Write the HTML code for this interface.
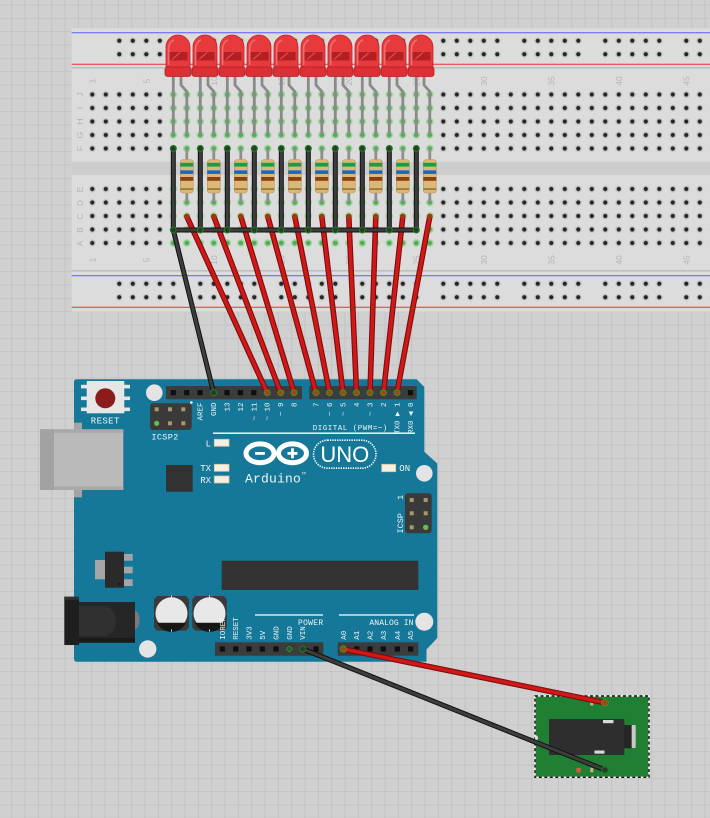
<!DOCTYPE html>
<html><head><meta charset="utf-8">
<style>
html,body{margin:0;padding:0;background:#d0d0d0;}
svg{display:block;}
.m{font-family:"Liberation Mono","DejaVu Sans Mono",monospace;fill:#eef4f6;}
.bb{font-family:"Liberation Sans","DejaVu Sans",sans-serif;fill:#b4b4b4;font-size:8.5px;}
</style></head>
<body>
<svg width="710" height="818" viewBox="0 0 710 818" xmlns="http://www.w3.org/2000/svg">
<defs>
 <pattern id="grid" patternUnits="userSpaceOnUse" x="-2.17" y="4.5" width="13.333" height="13.333">
  <rect width="13.333" height="13.333" fill="#d0d0d0"/>
  <path d="M0.5,0V13.333M0,0.5H13.333" stroke="#c3c3c3" stroke-width="1"/>
 </pattern>
 <pattern id="hole" patternUnits="userSpaceOnUse" x="85.55" y="87.75" width="13.5" height="13.5">
  <circle cx="6.75" cy="6.75" r="3.5" fill="#c6c6c6"/>
  <circle cx="6.75" cy="6.75" r="2.1" fill="#252525"/>
 </pattern>
 <pattern id="ghole" patternUnits="userSpaceOnUse" x="85.55" y="87.75" width="13.5" height="13.5">
  <circle cx="6.75" cy="6.75" r="3.8" fill="#9fd59f"/>
  <circle cx="6.75" cy="6.75" r="2.3" fill="#4fae55"/>
 </pattern>
 <pattern id="rail" patternUnits="userSpaceOnUse" x="112.55" y="34" width="81" height="13.5">
  <circle cx="6.75" cy="6.75" r="3.5" fill="#c6c6c6"/><circle cx="6.75" cy="6.75" r="2.1" fill="#252525"/>
  <circle cx="20.25" cy="6.75" r="3.5" fill="#c6c6c6"/><circle cx="20.25" cy="6.75" r="2.1" fill="#252525"/>
  <circle cx="33.75" cy="6.75" r="3.5" fill="#c6c6c6"/><circle cx="33.75" cy="6.75" r="2.1" fill="#252525"/>
  <circle cx="47.25" cy="6.75" r="3.5" fill="#c6c6c6"/><circle cx="47.25" cy="6.75" r="2.1" fill="#252525"/>
  <circle cx="60.75" cy="6.75" r="3.5" fill="#c6c6c6"/><circle cx="60.75" cy="6.75" r="2.1" fill="#252525"/>
 </pattern>
 <g id="led">
  <path d="M173.3,75V135" stroke="#8a8a8a" stroke-width="2.8" fill="none"/>
  <path d="M181,75V85L186.8,91.5V135" stroke="#8a8a8a" stroke-width="2.8" fill="none" stroke-linejoin="round"/>
  <path d="M166,68V47A12,12 0 0 1 190,47V68Z" fill="#e63a3c" stroke="#c22428" stroke-width="0.8"/>
  <rect x="165" y="67" width="26" height="9.5" rx="2.5" fill="#dc3034" stroke="#b51f22" stroke-width="0.8"/>
  <rect x="169.5" y="52" width="18" height="8.5" fill="#b41f24"/>
  <path d="M171,59.5L179,52.5H181L173,59.5Z" fill="#dd4a4a"/>
  <path d="M168.6,65V48A9.5,9.5 0 0 1 174,39.8" stroke="#f08080" stroke-width="1.8" fill="none" opacity="0.7"/>
 </g>
 <g id="res">
  <path d="M186.8,148.5V203" stroke="#8e8e8e" stroke-width="2.8"/>
  <rect x="180.3" y="159.5" width="13" height="33.5" rx="3" fill="#dbb878" stroke="#b8955a" stroke-width="0.6"/>
  <rect x="180.3" y="162.8" width="13" height="3.8" fill="#14a044"/>
  <rect x="180.3" y="170.4" width="13" height="3.5" fill="#1a66bf"/>
  <rect x="180.3" y="177" width="13" height="3.8" fill="#8b3f10"/>
  <rect x="180.3" y="188.2" width="13" height="1.8" fill="#9a7a3a"/>
 </g>
 <g id="pinh"><rect x="-2.6" y="-2.6" width="5.2" height="5.2" fill="#0e0e0e"/></g>
</defs>

<!-- background -->
<rect x="0" y="0" width="710" height="818" fill="url(#grid)"/>

<!-- breadboard -->
<rect x="71.7" y="28.3" width="660" height="283.4" fill="#dcdcdc"/>
<line x1="71.7" y1="32.7" x2="710" y2="32.7" stroke="#5b5bff" stroke-width="1"/>
<line x1="71.7" y1="64.3" x2="710" y2="64.3" stroke="#ee3030" stroke-width="1"/>
<line x1="71.7" y1="67.7" x2="710" y2="67.7" stroke="#bdbdbd" stroke-width="1.5"/>
<line x1="71.7" y1="270.7" x2="710" y2="270.7" stroke="#bdbdbd" stroke-width="1.5"/>
<line x1="71.7" y1="275.7" x2="710" y2="275.7" stroke="#5b5bff" stroke-width="1"/>
<line x1="71.7" y1="307.3" x2="710" y2="307.3" stroke="#ee3030" stroke-width="1"/>
<rect x="71.7" y="161.7" width="660" height="13.3" fill="#cdcdcd"/>
<rect x="112.55" y="34" width="600" height="27" fill="url(#rail)"/>
<rect x="112.55" y="277" width="600" height="27" fill="url(#rail)"/>
<rect x="85.55" y="87.75" width="630" height="67.5" fill="url(#hole)"/>
<rect x="85.55" y="182.75" width="630" height="67.5" fill="url(#hole)"/>
<rect x="166.55" y="87.75" width="270" height="67.5" fill="url(#ghole)"/>
<rect x="166.55" y="182.75" width="270" height="67.5" fill="url(#ghole)"/>

<!-- row letters -->
<g class="bb">
 <text transform="translate(83,94.5) rotate(-90)" text-anchor="middle">J</text>
 <text transform="translate(83,108) rotate(-90)" text-anchor="middle">I</text>
 <text transform="translate(83,121.5) rotate(-90)" text-anchor="middle">H</text>
 <text transform="translate(83,135) rotate(-90)" text-anchor="middle">G</text>
 <text transform="translate(83,148.5) rotate(-90)" text-anchor="middle">F</text>
 <text transform="translate(83,189.5) rotate(-90)" text-anchor="middle">E</text>
 <text transform="translate(83,203) rotate(-90)" text-anchor="middle">D</text>
 <text transform="translate(83,216.5) rotate(-90)" text-anchor="middle">C</text>
 <text transform="translate(83,230) rotate(-90)" text-anchor="middle">B</text>
 <text transform="translate(83,243.5) rotate(-90)" text-anchor="middle">A</text>
 <text transform="translate(95.3,81) rotate(-90)" text-anchor="middle">1</text>
 <text transform="translate(149.3,81) rotate(-90)" text-anchor="middle">5</text>
 <text transform="translate(216.8,81) rotate(-90)" text-anchor="middle">10</text>
 <text transform="translate(284.3,81) rotate(-90)" text-anchor="middle">15</text>
 <text transform="translate(351.8,81) rotate(-90)" text-anchor="middle">20</text>
 <text transform="translate(419.3,81) rotate(-90)" text-anchor="middle">25</text>
 <text transform="translate(486.8,81) rotate(-90)" text-anchor="middle">30</text>
 <text transform="translate(554.3,81) rotate(-90)" text-anchor="middle">35</text>
 <text transform="translate(621.8,81) rotate(-90)" text-anchor="middle">40</text>
 <text transform="translate(689.3,81) rotate(-90)" text-anchor="middle">45</text>
 <text transform="translate(95.3,260) rotate(-90)" text-anchor="middle">1</text>
 <text transform="translate(149.3,260) rotate(-90)" text-anchor="middle">5</text>
 <text transform="translate(216.8,260) rotate(-90)" text-anchor="middle">10</text>
 <text transform="translate(284.3,260) rotate(-90)" text-anchor="middle">15</text>
 <text transform="translate(351.8,260) rotate(-90)" text-anchor="middle">20</text>
 <text transform="translate(419.3,260) rotate(-90)" text-anchor="middle">25</text>
 <text transform="translate(486.8,260) rotate(-90)" text-anchor="middle">30</text>
 <text transform="translate(554.3,260) rotate(-90)" text-anchor="middle">35</text>
 <text transform="translate(621.8,260) rotate(-90)" text-anchor="middle">40</text>
 <text transform="translate(689.3,260) rotate(-90)" text-anchor="middle">45</text>
</g>

<!-- LEDs -->
<use href="#led"/>
<use href="#led" transform="translate(27,0)"/>
<use href="#led" transform="translate(54,0)"/>
<use href="#led" transform="translate(81,0)"/>
<use href="#led" transform="translate(108,0)"/>
<use href="#led" transform="translate(135,0)"/>
<use href="#led" transform="translate(162,0)"/>
<use href="#led" transform="translate(189,0)"/>
<use href="#led" transform="translate(216,0)"/>
<use href="#led" transform="translate(243,0)"/>

<!-- resistors -->
<use href="#res"/>
<use href="#res" transform="translate(27,0)"/>
<use href="#res" transform="translate(54,0)"/>
<use href="#res" transform="translate(81,0)"/>
<use href="#res" transform="translate(108,0)"/>
<use href="#res" transform="translate(135,0)"/>
<use href="#res" transform="translate(162,0)"/>
<use href="#res" transform="translate(189,0)"/>
<use href="#res" transform="translate(216,0)"/>
<use href="#res" transform="translate(243,0)"/>

<!-- ARDUINO -->
<path d="M77,379.3L416.7,379.3L424.3,387L424.3,451.7L437.3,463.5L437.3,638L426.5,649.5L426.5,661.7L77,661.7Q74,661.7 74,658.7L74,382.3Q74,379.3 77,379.3Z" fill="#167898"/>
<!-- mounting holes -->
<circle cx="154.3" cy="392.7" r="8.3" fill="#e4e4e4"/>
<circle cx="424.3" cy="473.3" r="8.3" fill="#e4e4e4"/>
<circle cx="147.7" cy="649" r="8.7" fill="#e4e4e4"/>
<circle cx="424.3" cy="621.7" r="9" fill="#e4e4e4"/>

<!-- USB -->
<rect x="74" y="422.7" width="8" height="7" fill="#a4a4a4"/>
<rect x="74" y="490" width="8" height="7.3" fill="#a4a4a4"/>
<rect x="40" y="429.3" width="83.3" height="60.7" fill="#bababa"/>
<rect x="40" y="429.3" width="83.3" height="3.5" fill="#a9a9a9"/>
<rect x="40" y="486.5" width="83.3" height="3.5" fill="#a9a9a9"/>
<rect x="40" y="429.3" width="14" height="60.7" fill="#a2a2a2"/>

<!-- reset -->
<rect x="81" y="384.8" width="6" height="3.6" fill="#e6e6e6"/>
<rect x="81" y="396.5" width="6" height="3.6" fill="#e6e6e6"/>
<rect x="81" y="407.5" width="6" height="3.6" fill="#e6e6e6"/>
<rect x="124" y="384.8" width="6" height="3.6" fill="#e6e6e6"/>
<rect x="124" y="396.5" width="6" height="3.6" fill="#e6e6e6"/>
<rect x="124" y="407.5" width="6" height="3.6" fill="#e6e6e6"/>
<rect x="86.7" y="381" width="37.6" height="32.3" fill="#e6e6e6"/>
<circle cx="105.3" cy="398.3" r="10" fill="#8c1c1c"/>
<text class="m" x="105.3" y="423.3" font-size="9" text-anchor="middle" letter-spacing="0.4">RESET</text>

<!-- ICSP2 -->
<rect x="150" y="403.3" width="41.7" height="26.7" rx="3" fill="#3a3a3a"/>
<rect x="154.7" y="407.3" width="4" height="4" fill="#a8996c"/>
<rect x="168" y="407.3" width="4" height="4" fill="#a8996c"/>
<rect x="181.3" y="407.3" width="4" height="4" fill="#a8996c"/>
<circle cx="156.7" cy="423.3" r="2.6" fill="#5fbf4f"/>
<rect x="168" y="421.3" width="4" height="4" fill="#a8996c"/>
<rect x="181.3" y="421.3" width="4" height="4" fill="#a8996c"/>
<circle cx="191.3" cy="402.5" r="1.3" fill="#ffffff"/>
<text class="m" x="151.5" y="439.5" font-size="8.5" letter-spacing="0.3">ICSP2</text>

<!-- headers top -->
<rect x="166" y="386" width="136" height="13.3" fill="#3c3c3c"/>
<rect x="309.3" y="386" width="107.4" height="13.3" fill="#3c3c3c"/>
<use href="#pinh" x="173.3" y="392.7"/><use href="#pinh" x="186.7" y="392.7"/>
<use href="#pinh" x="200.1" y="392.7"/><use href="#pinh" x="213.6" y="392.7"/>
<use href="#pinh" x="227" y="392.7"/><use href="#pinh" x="240.4" y="392.7"/>
<use href="#pinh" x="253.8" y="392.7"/><use href="#pinh" x="267.2" y="392.7"/>
<use href="#pinh" x="280.7" y="392.7"/><use href="#pinh" x="294.1" y="392.7"/>
<use href="#pinh" x="316" y="392.7"/><use href="#pinh" x="329.5" y="392.7"/>
<use href="#pinh" x="343" y="392.7"/><use href="#pinh" x="356.5" y="392.7"/>
<use href="#pinh" x="370" y="392.7"/><use href="#pinh" x="383.5" y="392.7"/>
<use href="#pinh" x="397" y="392.7"/><use href="#pinh" x="410.5" y="392.7"/>

<g class="m" font-size="7.5" text-anchor="end">
 <text transform="translate(202.6,402.5) rotate(-90)">AREF</text>
 <text transform="translate(216.1,402.5) rotate(-90)">GND</text>
 <text transform="translate(229.5,402.5) rotate(-90)">13</text>
 <text transform="translate(242.9,402.5) rotate(-90)">12</text>
 <text transform="translate(256.3,402.5) rotate(-90)">~ 11</text>
 <text transform="translate(269.7,402.5) rotate(-90)">~ 10</text>
 <text transform="translate(283.2,402.5) rotate(-90)">~ 9</text>
 <text transform="translate(296.6,402.5) rotate(-90)">8</text>
 <text transform="translate(318.5,402.5) rotate(-90)">7</text>
 <text transform="translate(332,402.5) rotate(-90)">~ 6</text>
 <text transform="translate(345.5,402.5) rotate(-90)">~ 5</text>
 <text transform="translate(359,402.5) rotate(-90)">4</text>
 <text transform="translate(372.5,402.5) rotate(-90)">~ 3</text>
 <text transform="translate(386,402.5) rotate(-90)">2</text>
 <text transform="translate(399.5,402.5) rotate(-90)">TX0 ▶ 1</text>
 <text transform="translate(413,402.5) rotate(-90)">RX0 ◀ 0</text>
</g>
<text class="m" x="312.7" y="430" font-size="7.5" letter-spacing="0.5">DIGITAL (PWM=~)</text>
<line x1="213" y1="433.2" x2="415" y2="433.2" stroke="#ffffff" stroke-width="1.4"/>

<!-- L TX RX -->
<text class="m" x="211" y="446.3" font-size="9" text-anchor="end">L</text>
<text class="m" x="211" y="471.2" font-size="9" text-anchor="end">TX</text>
<text class="m" x="211" y="482.8" font-size="9" text-anchor="end">RX</text>
<rect x="214.3" y="439.3" width="14.7" height="7" fill="#f5f0e4" stroke="#d3c497" stroke-width="0.8"/>
<rect x="214.3" y="464.3" width="14.7" height="7" fill="#f5f0e4" stroke="#d3c497" stroke-width="0.8"/>
<rect x="214.3" y="476" width="14.7" height="7" fill="#f5f0e4" stroke="#d3c497" stroke-width="0.8"/>
<rect x="381.7" y="464.3" width="14" height="7.4" fill="#f5f0e4" stroke="#d3c497" stroke-width="0.8"/>
<text class="m" x="399.3" y="470.8" font-size="9">ON</text>

<!-- small chip -->
<rect x="166" y="465" width="26.7" height="26.7" fill="#323232"/>

<!-- logo -->
<ellipse cx="260" cy="453.3" rx="14" ry="9.4" fill="none" stroke="#ffffff" stroke-width="5"/>
<ellipse cx="292.5" cy="453.3" rx="14" ry="9.4" fill="none" stroke="#ffffff" stroke-width="5"/>
<rect x="255" y="452" width="10" height="2.8" fill="#ffffff"/>
<rect x="287.5" y="452" width="10" height="2.8" fill="#ffffff"/>
<rect x="291.1" y="448.3" width="2.8" height="10" fill="#ffffff"/>
<rect x="313.5" y="440.2" width="62.5" height="28" rx="14" fill="none" stroke="#ffffff" stroke-width="1.6" stroke-dasharray="1.3 1.1"/>
<text x="344.8" y="461.8" font-family="Liberation Sans, DejaVu Sans, sans-serif" font-size="22" fill="#ffffff" text-anchor="middle">UNO</text>
<text class="m" x="245" y="482.5" font-size="13" letter-spacing="0.2">Arduino</text>
<text class="m" x="301.5" y="474.5" font-size="3.5">TM</text>

<!-- ICSP -->
<rect x="405" y="493.3" width="26.7" height="40" rx="3" fill="#3a3a3a"/>
<rect x="409.7" y="498" width="4" height="4" fill="#a8996c"/>
<rect x="423.7" y="498" width="4" height="4" fill="#a8996c"/>
<rect x="409.7" y="511.3" width="4" height="4" fill="#a8996c"/>
<rect x="423.7" y="511.3" width="4" height="4" fill="#a8996c"/>
<rect x="409.7" y="525.3" width="4" height="4" fill="#a8996c"/>
<circle cx="425.7" cy="527.3" r="2.7" fill="#5fbf4f"/>
<text class="m" transform="translate(403,497.3) rotate(-90)" font-size="8.5" text-anchor="middle">1</text>
<text class="m" transform="translate(403,523.3) rotate(-90)" font-size="8.5" text-anchor="middle">ICSP</text>

<!-- regulator -->
<rect x="95" y="560" width="10" height="19.3" fill="#a5a5a5"/>
<rect x="124" y="554" width="8.7" height="6.7" fill="#a5a5a5"/>
<rect x="124" y="566.7" width="8.7" height="6.6" fill="#a5a5a5"/>
<rect x="124" y="579.3" width="8.7" height="6.7" fill="#a5a5a5"/>
<rect x="105" y="551.7" width="19" height="36" fill="#2a2a2a"/>
<circle cx="119.5" cy="584" r="0.9" fill="#111"/>

<!-- DC jack -->
<path d="M135,611 A4,8 0 0 1 135,629Z" fill="#7a7a7a"/>
<rect x="79" y="602" width="56" height="40.7" fill="#262626"/>
<path d="M79,606H104A12,15 0 0 1 104,636H79Z" fill="#303030"/>
<rect x="79" y="638" width="56" height="4.7" fill="#1a1a1a"/>
<rect x="64.3" y="596.7" width="14.7" height="48.3" fill="#1e1e1e"/>
<rect x="64.3" y="596.7" width="14.7" height="3" fill="#333"/>

<!-- capacitors -->
<path d="M157,596H186L189,599.5V627.5L186,630.7H157L154,627.5V599.5Z" fill="#3a3a3a"/>
<path d="M195.3,596H223.7L226.7,599.5V627.5L223.7,630.7H195.3L192.3,627.5V599.5Z" fill="#3a3a3a"/>
<circle cx="171.5" cy="613.3" r="16" fill="#e8e8e8"/>
<circle cx="209.5" cy="613.3" r="16" fill="#e8e8e8"/>
<path d="M157,622.7H186A16,16 0 0 1 157,622.7Z" fill="#161616"/>
<path d="M195,622.7H224A16,16 0 0 1 195,622.7Z" fill="#161616"/>
<rect x="171" y="595.5" width="1" height="2" fill="#ddd"/><rect x="171" y="629.5" width="1" height="2" fill="#ddd"/>
<rect x="209" y="595.5" width="1" height="2" fill="#ddd"/><rect x="209" y="629.5" width="1" height="2" fill="#ddd"/>

<!-- big chip -->
<rect x="221.7" y="560.7" width="196.6" height="29.3" fill="#333333"/>

<!-- power / analog -->
<line x1="255" y1="615" x2="323" y2="615" stroke="#ffffff" stroke-width="1.3"/>
<line x1="339" y1="615" x2="414" y2="615" stroke="#ffffff" stroke-width="1.3"/>
<text class="m" x="323.5" y="624.8" font-size="8" text-anchor="end" letter-spacing="0.3">POWER</text>
<text class="m" x="413.5" y="624.8" font-size="8" text-anchor="end" letter-spacing="0.1">ANALOG IN</text>
<g class="m" font-size="7.5">
 <text transform="translate(224.8,639.8) rotate(-90)">IOREF</text>
 <text transform="translate(238.2,639.8) rotate(-90)">RESET</text>
 <text transform="translate(251.5,639.8) rotate(-90)">3V3</text>
 <text transform="translate(264.8,639.8) rotate(-90)">5V</text>
 <text transform="translate(278.5,639.8) rotate(-90)">GND</text>
 <text transform="translate(291.8,639.8) rotate(-90)">GND</text>
 <text transform="translate(305.2,639.8) rotate(-90)">VIN</text>
 <text transform="translate(345.8,639.8) rotate(-90)">A0</text>
 <text transform="translate(359.2,639.8) rotate(-90)">A1</text>
 <text transform="translate(372.5,639.8) rotate(-90)">A2</text>
 <text transform="translate(385.8,639.8) rotate(-90)">A3</text>
 <text transform="translate(399.8,639.8) rotate(-90)">A4</text>
 <text transform="translate(413.2,639.8) rotate(-90)">A5</text>
</g>
<rect x="215" y="642.3" width="108.3" height="13.4" fill="#3c3c3c"/>
<rect x="337.7" y="642.3" width="80.6" height="13.4" fill="#3c3c3c"/>
<use href="#pinh" x="222.3" y="649"/><use href="#pinh" x="235.7" y="649"/>
<use href="#pinh" x="249" y="649"/><use href="#pinh" x="262.3" y="649"/>
<use href="#pinh" x="276" y="649"/><use href="#pinh" x="289.3" y="649"/>
<use href="#pinh" x="302.7" y="649"/><use href="#pinh" x="316" y="649"/>
<use href="#pinh" x="343.3" y="649"/><use href="#pinh" x="356.7" y="649"/>
<use href="#pinh" x="370" y="649"/><use href="#pinh" x="383.3" y="649"/>
<use href="#pinh" x="397.3" y="649"/><use href="#pinh" x="410.7" y="649"/>
<circle cx="289.3" cy="649" r="2.6" fill="#1f5f1f" stroke="#3c9a3c" stroke-width="0.8"/>

<!-- audio jack module -->
<rect x="535" y="696" width="114" height="81.3" fill="#207f33"/>
<rect x="535" y="696" width="114" height="81.3" fill="none" stroke="#ffffff" stroke-width="1.4"/>
<rect x="535" y="696" width="114" height="81.3" fill="none" stroke="#111" stroke-width="1.4" stroke-dasharray="3 2.5"/>
<path d="M535,735A3,3 0 0 1 535,741Z" fill="#e0e0e0"/>
<rect x="549" y="719" width="75.3" height="36" fill="#2e2e2e"/>
<rect x="624" y="725" width="7.7" height="23.3" fill="#262626"/>
<rect x="631.7" y="725" width="4" height="23" rx="1" fill="#c9c9c9"/>
<rect x="603" y="720" width="10.5" height="3.2" fill="#d8d8d8"/>
<rect x="594.5" y="750.5" width="10" height="3.2" fill="#d8d8d8"/>
<rect x="590.3" y="701" width="3" height="4.5" fill="#c7b28a"/>
<rect x="590.3" y="767.8" width="3" height="4.5" fill="#c7b28a"/>
<rect x="576.3" y="768" width="4.5" height="4.5" fill="#d25a4a"/>

<!-- RED WIRES -->
<g fill="none" stroke-linecap="round">
 <path d="M186.8,216.5L267.2,392.7M213.8,216.5L280.7,392.7M240.8,216.5L294.1,392.7M267.8,216.5L316,392.7M294.8,216.5L329.5,392.7M321.8,216.5L343,392.7M348.8,216.5L356.5,392.7M375.8,216.5L370,392.7M402.8,216.5L383.5,392.7M429.8,216.5L397,392.7M343.3,649L605,702.7" stroke="#7e0c0c" stroke-width="5.6"/>
 <path d="M186.8,216.5L267.2,392.7M213.8,216.5L280.7,392.7M240.8,216.5L294.1,392.7M267.8,216.5L316,392.7M294.8,216.5L329.5,392.7M321.8,216.5L343,392.7M348.8,216.5L356.5,392.7M375.8,216.5L370,392.7M402.8,216.5L383.5,392.7M429.8,216.5L397,392.7M343.3,649L605,702.7" stroke="#d01818" stroke-width="3.4"/>
</g>
<g fill="#a5360f">
 <circle cx="186.8" cy="216.5" r="2.8"/><circle cx="213.8" cy="216.5" r="2.8"/>
 <circle cx="240.8" cy="216.5" r="2.8"/><circle cx="267.8" cy="216.5" r="2.8"/>
 <circle cx="294.8" cy="216.5" r="2.8"/><circle cx="321.8" cy="216.5" r="2.8"/>
 <circle cx="348.8" cy="216.5" r="2.8"/><circle cx="375.8" cy="216.5" r="2.8"/>
 <circle cx="402.8" cy="216.5" r="2.8"/><circle cx="429.8" cy="216.5" r="2.8"/>
</g>
<g fill="#9a4a12" stroke="#3f8f2f" stroke-width="1">
 <circle cx="267.2" cy="392.7" r="3"/><circle cx="280.7" cy="392.7" r="3"/>
 <circle cx="294.1" cy="392.7" r="3"/><circle cx="316" cy="392.7" r="3"/>
 <circle cx="329.5" cy="392.7" r="3"/><circle cx="343" cy="392.7" r="3"/>
 <circle cx="356.5" cy="392.7" r="3"/><circle cx="370" cy="392.7" r="3"/>
 <circle cx="383.5" cy="392.7" r="3"/><circle cx="397" cy="392.7" r="3"/>
 <circle cx="343.3" cy="649" r="3.2"/><circle cx="605" cy="702.7" r="3.4"/>
</g>

<!-- BLACK WIRES -->
<g fill="none" stroke-linecap="round" stroke-linejoin="round">
 <path d="M173.3,148.5V230M200.3,148.5V230M227.3,148.5V230M254.3,148.5V230M281.3,148.5V230M308.3,148.5V230M335.3,148.5V230M362.3,148.5V230M389.3,148.5V230M416.3,148.5V230M173.3,230H416.3M173.3,230L213.6,392.7M302.7,649L605,770" stroke="#121212" stroke-width="5"/>
 <path d="M173.3,148.5V230M200.3,148.5V230M227.3,148.5V230M254.3,148.5V230M281.3,148.5V230M308.3,148.5V230M335.3,148.5V230M362.3,148.5V230M389.3,148.5V230M416.3,148.5V230M173.3,230H416.3M173.3,230L213.6,392.7M302.7,649L605,770" stroke="#3d3d3d" stroke-width="3"/>
</g>
<g fill="#2c3a2c" stroke="#1f7a1f" stroke-width="1.1">
 <circle cx="173.3" cy="148.5" r="2.9"/><circle cx="200.3" cy="148.5" r="2.9"/>
 <circle cx="227.3" cy="148.5" r="2.9"/><circle cx="254.3" cy="148.5" r="2.9"/>
 <circle cx="281.3" cy="148.5" r="2.9"/><circle cx="308.3" cy="148.5" r="2.9"/>
 <circle cx="335.3" cy="148.5" r="2.9"/><circle cx="362.3" cy="148.5" r="2.9"/>
 <circle cx="389.3" cy="148.5" r="2.9"/><circle cx="416.3" cy="148.5" r="2.9"/>
 <circle cx="173.3" cy="230" r="2.9"/><circle cx="200.3" cy="230" r="2.9"/>
 <circle cx="227.3" cy="230" r="2.9"/><circle cx="254.3" cy="230" r="2.9"/>
 <circle cx="281.3" cy="230" r="2.9"/><circle cx="308.3" cy="230" r="2.9"/>
 <circle cx="335.3" cy="230" r="2.9"/><circle cx="362.3" cy="230" r="2.9"/>
 <circle cx="389.3" cy="230" r="2.9"/><circle cx="416.3" cy="230" r="2.9"/>
 <circle cx="213.6" cy="392.7" r="3.1"/><circle cx="302.7" cy="649" r="3.1"/>
 <circle cx="605" cy="770" r="3.2"/>
</g>
</svg>
</body></html>
